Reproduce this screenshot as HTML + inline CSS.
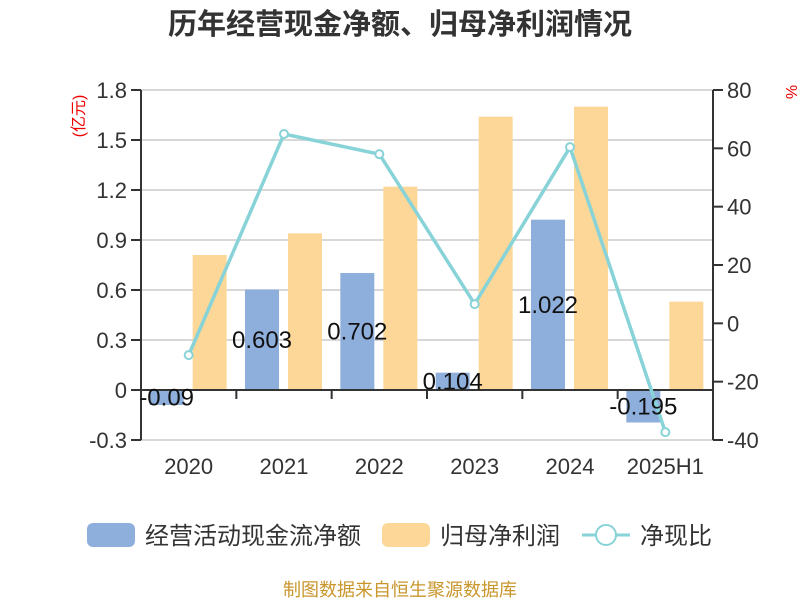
<!DOCTYPE html>
<html><head><meta charset="utf-8"><style>
body{margin:0;background:#fff;}
svg{display:block;font-family:"Liberation Sans","Noto Sans CJK SC",sans-serif;}
</style></head><body>
<svg id="c" width="800" height="600" xmlns="http://www.w3.org/2000/svg">
<text x="400" y="34" text-anchor="middle" font-size="29" font-weight="bold" fill="#333">历年经营现金净额、归母净利润情况</text>
<g id="grid"></g><g id="bars"></g><g id="axes"></g><g id="line"></g><g id="labels"></g>
<text transform="translate(84,116) rotate(-90)" text-anchor="middle" font-size="16" fill="#e00">(亿元)</text>
<text transform="translate(786,92) rotate(90)" text-anchor="middle" font-size="16" fill="#e00">%</text>
<g>
<rect x="87" y="523" width="48" height="24" rx="6" fill="#8eaedb"/>
<text x="145" y="544" font-size="24" fill="#333">经营活动现金流净额</text>
<rect x="382" y="523" width="48" height="24" rx="6" fill="#fdd797"/>
<text x="440" y="544" font-size="24" fill="#333">归母净利润</text>
<line x1="582" y1="535" x2="630" y2="535" stroke="#88d3d8" stroke-width="3"/>
<circle cx="606" cy="535" r="10" fill="#fff" stroke="#88d3d8" stroke-width="2"/>
<text x="640" y="544" font-size="24" fill="#333">净现比</text>
</g>
<text x="400" y="596" text-anchor="middle" font-size="18" fill="#c9962c">制图数据来自恒生聚源数据库</text>
</svg>
<script>
const categories=["2020","2021","2022","2023","2024","2025H1"];
const cashFlow=[-0.09,0.603,0.702,0.104,1.022,-0.195];
const netProfit=[0.81,0.94,1.22,1.64,1.70,0.53];
const ratio=[-10.9,64.9,58.0,6.6,60.4,-37.3];
const leftTicks=[-0.3,0,0.3,0.6,0.9,1.2,1.5,1.8];
const rightTicks=[-40,-20,0,20,40,60,80];
const NS="http://www.w3.org/2000/svg";
const L=141,R=713,T=90,B=440;
const yL=v=>B-(v+0.3)/2.1*(B-T);
const yR=v=>B-(v+40)/120*(B-T);
const bw=(R-L)/categories.length;
const xc=i=>L+bw*(i+0.5);
function mk(p,tag,a,txt){const e=document.createElementNS(NS,tag);for(const k in a)e.setAttribute(k,a[k]);if(txt!=null)e.textContent=txt;document.getElementById(p).appendChild(e);return e;}
leftTicks.forEach(v=>{
 const g=mk('grid','line',{x1:L,x2:R,y1:yL(v),y2:yL(v),stroke:'#ccc','stroke-width':1.5});
 
 
 const tk=mk('axes','line',{x1:L-10,x2:L,y1:yL(v),y2:yL(v),stroke:'#333','stroke-width':2});
 
 
 const t=mk('axes','text',{x:L-14,y:yL(v)+8,'text-anchor':'end','font-size':22,fill:'#333'},(v===0?'0':v.toFixed(1)));
 
 
});
rightTicks.forEach(v=>{
 const tk=mk('axes','line',{x1:R,x2:R+10,y1:yR(v),y2:yR(v),stroke:'#333','stroke-width':2});
 
 
 const t=mk('axes','text',{x:R+14,y:yR(v)+8,'font-size':22,fill:'#333'},String(v));
 
 
});
let a=mk('axes','line',{x1:L,x2:L,y1:T,y2:B,stroke:'#333','stroke-width':2});


a=mk('axes','line',{x1:R,x2:R,y1:T,y2:B,stroke:'#333','stroke-width':2});


a=mk('axes','line',{x1:L,x2:R,y1:yL(0),y2:yL(0),stroke:'#333','stroke-width':2});


categories.forEach((c,i)=>{
 if(i>0){const tk=mk('axes','line',{x1:L+bw*i,x2:L+bw*i,y1:yL(0),y2:yL(0)+9,stroke:'#333','stroke-width':2});
 
 }
 const t=mk('axes','text',{x:xc(i),y:474,'text-anchor':'middle','font-size':22,fill:'#333'},c);
 
 
 const v=cashFlow[i],y0=yL(0),y1=yL(v);
 const b=mk('bars','rect',{x:xc(i)-39,y:Math.min(y0,y1),width:34,height:Math.abs(y1-y0),fill:'#8eaedb'});
 
 
 const p=netProfit[i],yp=yL(p);
 const b2=mk('bars','rect',{x:xc(i)+4,y:Math.min(y0,yp),width:34,height:Math.abs(yp-y0),fill:'#fdd797'});
 
 
 const lb=mk('labels','text',{x:xc(i)-22,y:(y0+y1)/2+8,'text-anchor':'middle','font-size':24,fill:'#111'},String(v));
 
 
});
const pts=ratio.map((v,i)=>xc(i)+','+yR(v)).join(' ');
const pl=mk('line','polyline',{points:pts,fill:'none',stroke:'#88d3d8','stroke-width':3.5});


ratio.forEach((v,i)=>{
 const c=mk('line','circle',{cx:xc(i),cy:yR(v),r:4,fill:'#fff',stroke:'#88d3d8','stroke-width':2});
 
 
});
</script>
</body></html>
